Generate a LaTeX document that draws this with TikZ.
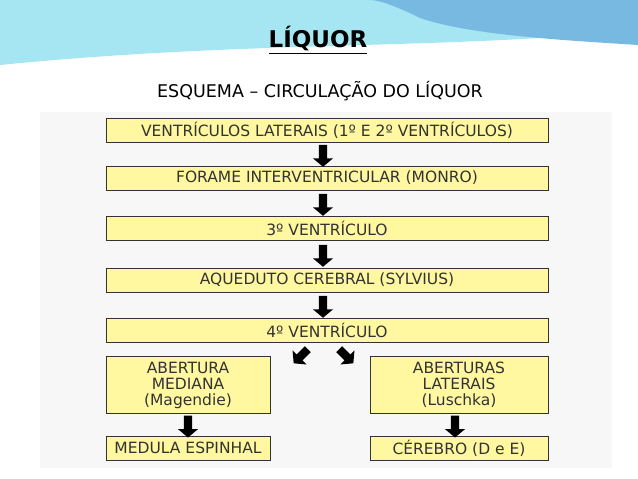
\documentclass[tikz,border=0pt]{standalone}
\usepackage{fontspec}
\setmainfont{DejaVu Sans}
\usetikzlibrary{positioning,shapes.arrows,calc}
\definecolor{boxfill}{RGB}{255,248,160}
\definecolor{wavea}{RGB}{165,230,242}
\definecolor{waveb}{RGB}{120,185,225}
\tikzset{stage/.style={rectangle,draw=black!80,fill=boxfill,semithick,text=black!80,minimum height=24pt,inner sep=0pt,font=\fontsize{15.5}{18}\selectfont}}
\tikzset{wide/.style={stage,minimum width=442pt}}
\tikzset{half/.style={stage,minimum width=164pt}}
\tikzset{tall/.style={half,minimum height=57pt,align=center,font=\fontsize{15.5}{16}\selectfont}}
\tikzset{flow/.style={single arrow,draw=none,fill=black,minimum height=22pt,minimum width=20pt,single arrow head extend=3pt,single arrow tip angle=100,inner sep=2pt}}

\begin{document}
\begin{tikzpicture}[x=1pt,y=-1pt]
\useasboundingbox (0,0) rectangle (638,479);
% background
\fill[wavea] (0,0) -- (638,0) -- (638,30) .. controls (450,50) and (250,40) .. (0,65) -- cycle;
\fill[waveb] (700,0) -- (638,0) -- (638,45) .. controls (560,40) and (470,35) .. (420,18) .. controls (400,8) and (380,0) .. (370,0) -- cycle;
\fill[white] (0,85) .. controls (80,55) and (250,55) .. (380,68) .. controls (480,78) and (560,68) .. (638,55) -- (638,479) -- (0,479) -- cycle;
\fill[black!3] (40,112) rectangle (612,468);
\node (title) at (318,40) {\fontsize{23}{26}\selectfont\bfseries\underline{LÍQUOR}};
\node (sub) at (320,91) {\fontsize{17.5}{20}\selectfont ESQUEMA – CIRCULAÇÃO DO LÍQUOR};
% boxes
\node (vl) [wide] at (327,130) {VENTRÍCULOS LATERAIS (1º E 2º VENTRÍCULOS)};
\node (fi) [wide] at (327,178) {FORAME INTERVENTRICULAR (MONRO)};
\node (v3) [wide] at (327,228) {3º VENTRÍCULO};
\node (aq) [wide] at (327,280) {AQUEDUTO CEREBRAL (SYLVIUS)};
\node (v4) [wide] at (327,330) {4º VENTRÍCULO};
\node (am) [tall] at (188,385) {ABERTURA\\MEDIANA\\(Magendie)};
\node (al) [tall,minimum width=178pt] at (459,385) {ABERTURAS\\LATERAIS\\(Luschka)};
\node (me) [half] at (188,448) {MEDULA ESPINHAL};
\node (ce) [half,minimum width=178pt] at (459,448) {CÉREBRO (D e E)};
% arrows
\node (a1) [flow,rotate=-90] at ($(vl.south)!0.5!(fi.north)+(-4,0)$) {};
\node (a2) [flow,rotate=-90] at ($(fi.south)!0.5!(v3.north)+(-4,0)$) {};
\node (a3) [flow,rotate=-90] at ($(v3.south)!0.5!(aq.north)+(-4,0)$) {};
\node (a4) [flow,rotate=-90] at ($(aq.south)!0.5!(v4.north)+(-4,0)$) {};
\node (a5) [flow,rotate=-135,minimum height=20pt] at (302,355) {};
\node (a6) [flow,rotate=-45,minimum height=20pt] at (345,355) {};
\node (a7) [flow,rotate=-90] at ($(am.south)!0.5!(me.north)$) {};
\node (a8) [flow,rotate=-90] at ($(al.south)!0.5!(ce.north)+(-4,0)$) {};
\end{tikzpicture}
\end{document}
